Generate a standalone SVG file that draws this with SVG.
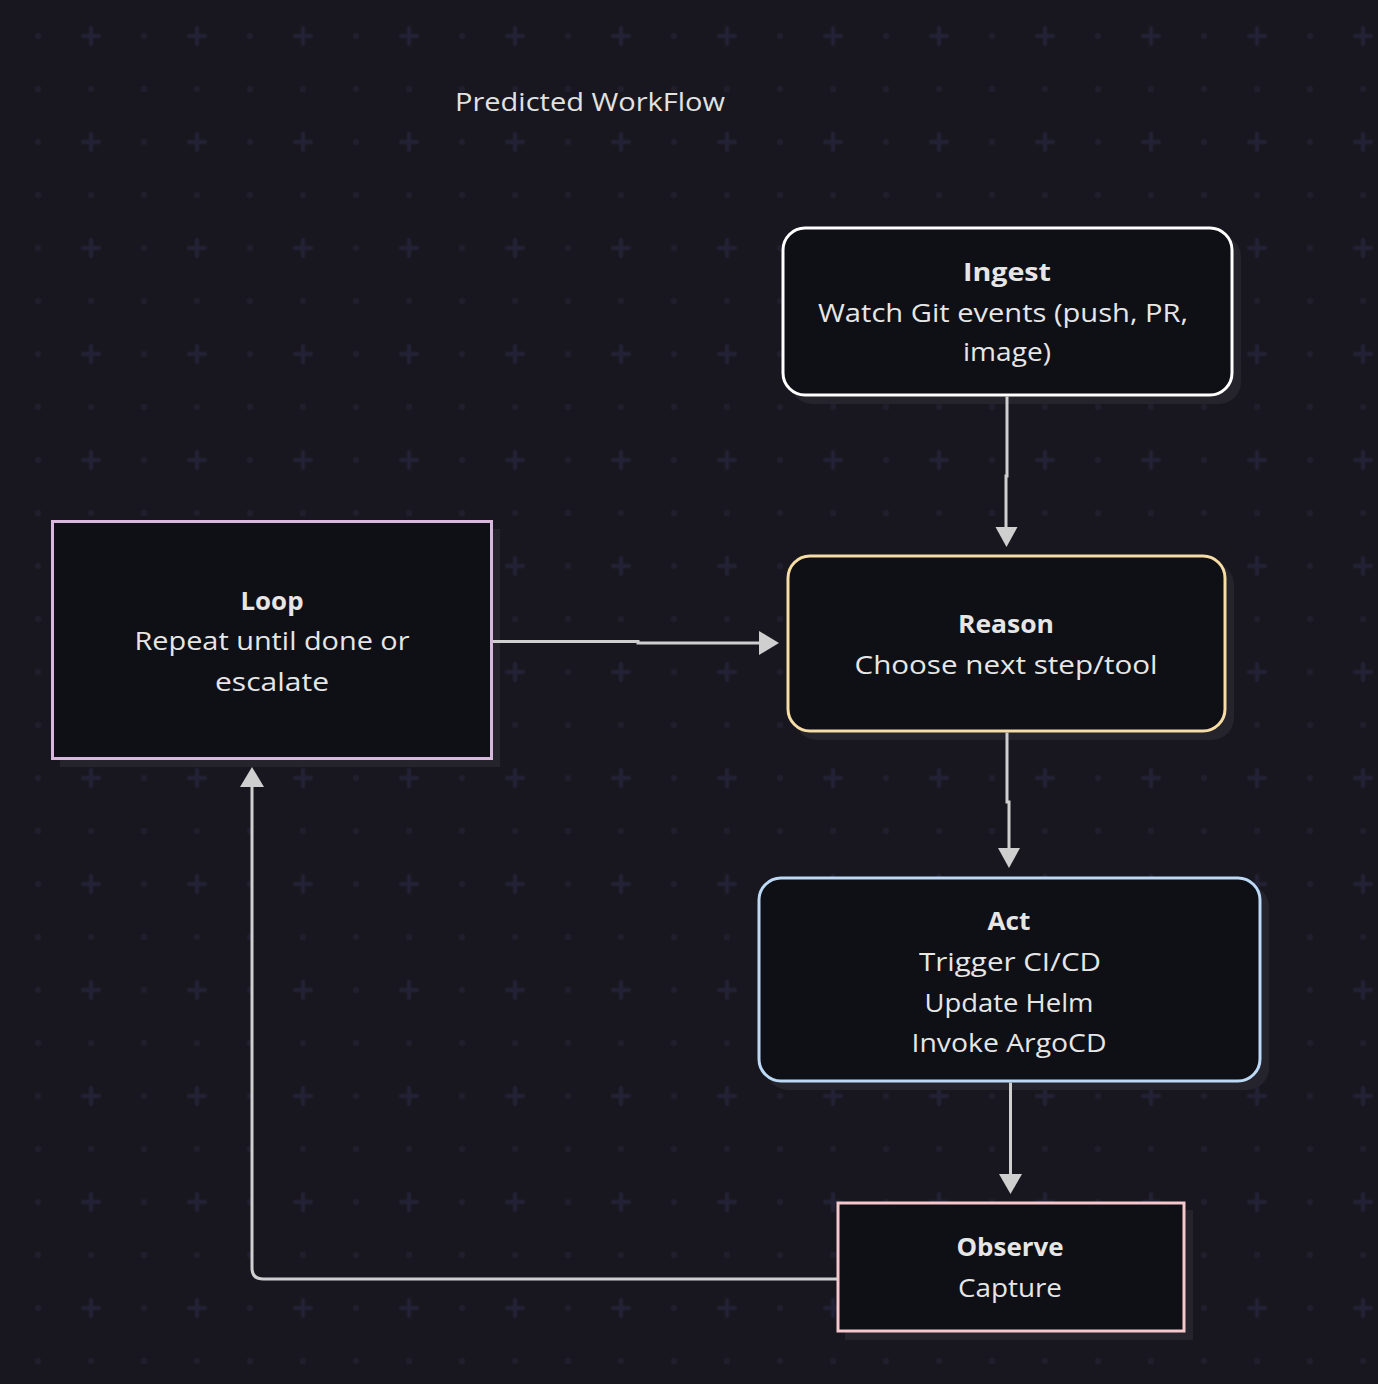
<svg xmlns="http://www.w3.org/2000/svg" width="1378" height="1384" viewBox="0 0 1378 1384">
<defs>
<pattern id="grid" x="11.5" y="9.5" width="106" height="106" patternUnits="userSpaceOnUse">
<circle cx="26.5" cy="26.5" r="3" fill="#211f2e"/>
<circle cx="26.5" cy="79.5" r="3" fill="#211f2e"/>
<circle cx="79.5" cy="79.5" r="3" fill="#211f2e"/>
<path d="M71.5 26.5 H87.5 M79.5 18.5 V34.5" stroke="#232135" stroke-width="4" stroke-linecap="round"/>
</pattern>
</defs>
<style>
.shadow{fill:#25242d}
.box{fill:#0f0f16;stroke-width:3}
.t{font-family:"Open Sans","Noto Sans","DejaVu Sans",sans-serif;font-size:25px;fill:#e6e6e6;text-anchor:middle}
.b{font-weight:bold}
.title{font-family:"Open Sans","DejaVu Sans",sans-serif;font-size:25px;fill:#e2e2e2;text-anchor:middle}
.edge{fill:none;stroke:#cfcfcf;stroke-width:3}
.head{fill:#cfcfcf}
</style>
<rect width="1378" height="1384" fill="#18171f"/>
<rect width="1378" height="1384" fill="url(#grid)"/>
<text class="title" x="590" y="110.5" textLength="270" lengthAdjust="spacingAndGlyphs">Predicted WorkFlow</text>

<g id="ingest">
<rect class="shadow" x="790" y="235" width="451" height="169" rx="22"/>
<rect class="box" x="783" y="228" width="449" height="167" rx="22" stroke="#ffffff"/>
<text class="t b" x="1007" y="281" textLength="88" lengthAdjust="spacingAndGlyphs">Ingest</text>
<text class="t" x="1003" y="321.5" textLength="370" lengthAdjust="spacingAndGlyphs">Watch Git events (push, PR,</text>
<text class="t" x="1007" y="361" textLength="88" lengthAdjust="spacingAndGlyphs">image)</text>
</g>

<g id="reason">
<rect class="shadow" x="795" y="563" width="439" height="177" rx="22"/>
<rect class="box" x="788" y="556" width="437" height="175" rx="22" stroke="#f6dca5"/>
<text class="t b" x="1006" y="632.5" textLength="96" lengthAdjust="spacingAndGlyphs">Reason</text>
<text class="t" x="1006" y="673.5" textLength="303" lengthAdjust="spacingAndGlyphs">Choose next step/tool</text>
</g>

<g id="loop">
<rect class="shadow" x="60" y="529" width="440" height="238"/>
<rect class="box" x="52.5" y="521.5" width="439" height="237" stroke="#d9b8dd"/>
<text class="t b" x="272" y="609.5" textLength="63" lengthAdjust="spacingAndGlyphs">Loop</text>
<text class="t" x="272" y="649.5" textLength="275" lengthAdjust="spacingAndGlyphs">Repeat until done or</text>
<text class="t" x="272" y="690.5" textLength="114" lengthAdjust="spacingAndGlyphs">escalate</text>
</g>

<g id="act">
<rect class="shadow" x="766" y="885" width="503" height="205" rx="22"/>
<rect class="box" x="759" y="878" width="501" height="203" rx="22" stroke="#bcd9f5"/>
<text class="t b" x="1009" y="930" textLength="43" lengthAdjust="spacingAndGlyphs">Act</text>
<text class="t" x="1010" y="970.5" textLength="182" lengthAdjust="spacingAndGlyphs">Trigger CI/CD</text>
<text class="t" x="1009" y="1011.5" textLength="169" lengthAdjust="spacingAndGlyphs">Update Helm</text>
<text class="t" x="1009" y="1051.5" textLength="195" lengthAdjust="spacingAndGlyphs">Invoke ArgoCD</text>
</g>

<g id="observe">
<rect class="shadow" x="845" y="1210" width="348" height="130"/>
<rect class="box" x="838" y="1203" width="346" height="128" stroke="#f4c8cc"/>
<text class="t b" x="1010" y="1256" textLength="107" lengthAdjust="spacingAndGlyphs">Observe</text>
<text class="t" x="1010" y="1296.5" textLength="104" lengthAdjust="spacingAndGlyphs">Capture</text>
</g>

<g id="connectors">
<path class="edge" d="M1007 396.5 V476 H1006 V527"/>
<polygon class="head" points="995.5,527 1017.5,527 1006.5,547"/>
<path class="edge" d="M493 641.5 H638 V643 H759"/>
<polygon class="head" points="759,631 779,643 759,655"/>
<path class="edge" d="M1007 732.5 V802 H1009 V848"/>
<polygon class="head" points="998,848 1020,848 1009,868"/>
<path class="edge" d="M1010.5 1082.5 V1174"/>
<polygon class="head" points="999,1174 1022,1174 1010.5,1194"/>
<path class="edge" d="M837 1279 H263 Q252 1279 252 1268 V787"/>
<polygon class="head" points="240,787 264,787 252,767"/>
</g>
</svg>
